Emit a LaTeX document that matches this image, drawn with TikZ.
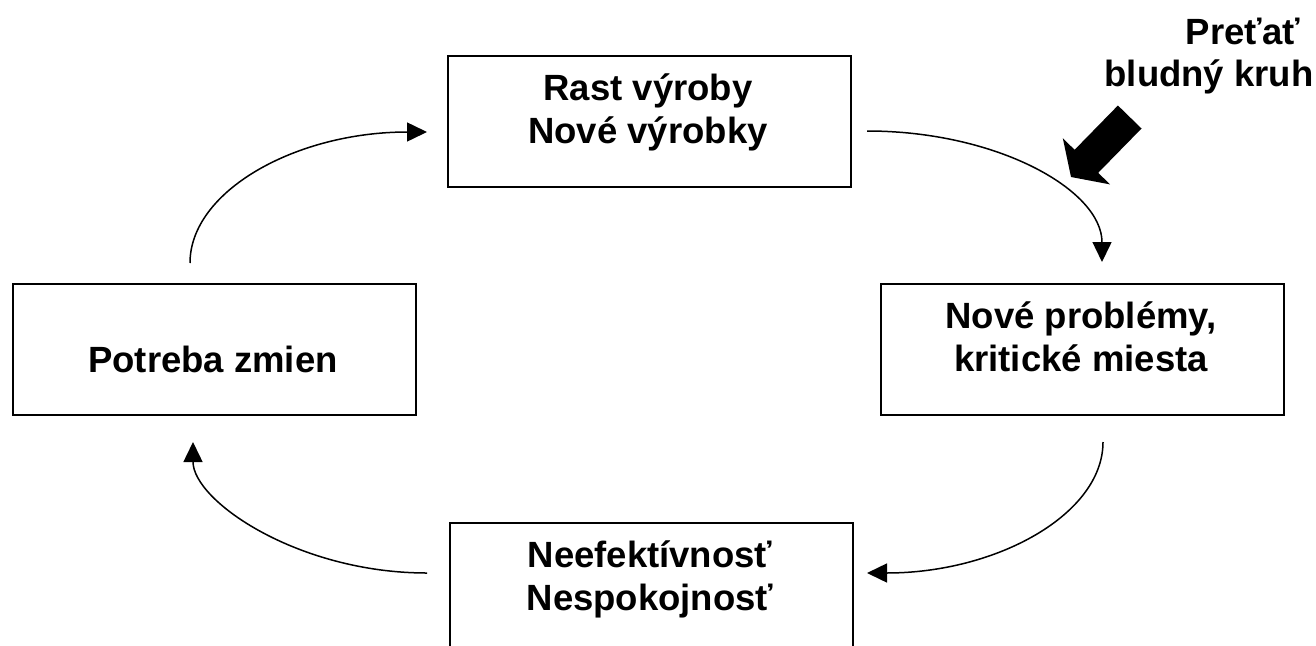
\documentclass[tikz,border=0pt]{standalone}
\usepackage{fontspec}
\setmainfont{Liberation Sans}
\usetikzlibrary{arrows.meta}

\begin{document}
\begin{tikzpicture}[x=1pt, y=-1pt,
  box/.style={draw, line width=1.6pt, minimum width=403pt, minimum height=131pt,
              anchor=north west, inner sep=0pt},
  lbl/.style={anchor=base, inner sep=0pt,
              font=\fontsize{36.5}{43}\selectfont\bfseries},
  flow/.style={line width=1.5pt, -{Triangle[length=20pt, width=19pt]}},
  bigarrow/.style={fill=black, draw=none}]

  \useasboundingbox (0,0) rectangle (1316,645);

  % the four stages of the cycle
  \node[box] (grow)  at (447,55)  {};
  \node[box] (probl) at (880,283) {};
  \node[box] (ineff) at (449,522) {};
  \node[box] (need)  at (12,283)  {};

  \node[lbl] (grow1)  at (648,100)  {Rast výroby};
  \node[lbl] (grow2)  at (648,143)  {Nové výrobky};
  \node[lbl] (probl1) at (1081,328) {Nové problémy,};
  \node[lbl] (probl2) at (1081,371) {kritické miesta};
  \node[lbl] (ineff1) at (650,567)  {Neefektívnosť};
  \node[lbl] (ineff2) at (650,610)  {Nespokojnosť};
  \node[lbl] (need1)  at (213,372)  {Potreba zmien};

  % call to break the loop
  \node[lbl] (brk1) at (1243,44) {Preťať};
  \node[lbl] (brk2) at (1209,86) {bludný kruh};

  % ends of the curved connectors
  \coordinate (s1) at (190,263);  \coordinate (e1) at (427,132);
  \coordinate (s2) at (867,131);  \coordinate (e2) at (1102,262);
  \coordinate (s3) at (1103,442); \coordinate (e3) at (867,573);
  \coordinate (s4) at (427,573);  \coordinate (e4) at (193,442);

  \draw[flow] (s1) .. controls (190,191) and (296,132) .. (e1);
  \draw[flow] (s2) .. controls (997,131) and (1102,190) .. (e2);
  \draw[flow] (s3) .. controls (1103,514) and (997,573) .. (e3);
  \draw[flow] (s4) .. controls (298,573) and (193,501) .. (e4);

  % thick block arrow pointing at the loop
  \fill[bigarrow] (1117.9,105.5) -- (1074.6,149.8) -- (1062.8,138.2)
    -- (1071,177) -- (1110,184.4) -- (1098.2,172.8) -- (1141.5,128.5) -- cycle;
\end{tikzpicture}
\end{document}
